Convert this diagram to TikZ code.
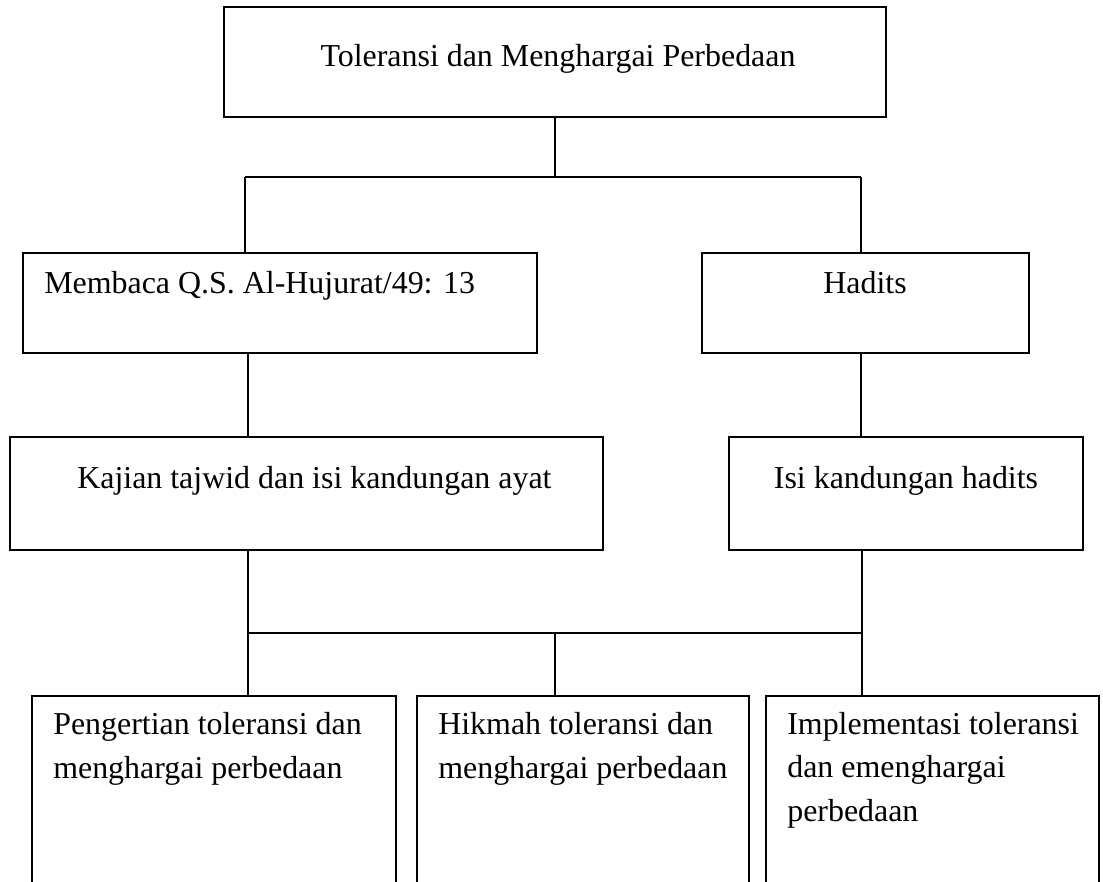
\documentclass[tikz,border=0pt]{standalone}
\usepackage{fontspec}
\setmainfont{Liberation Serif}
\usetikzlibrary{positioning}
\tikzset{
  box/.style={draw, line width=1.2pt, inner sep=0pt},
  box text/.style={font=\fontsize{22.7}{30.6}\selectfont, inner sep=0pt},
  link/.style={line width=1pt},
}

\begin{document}
\begin{tikzpicture}[x=0.025cm, y=-0.025cm]
  \useasboundingbox (0,0) rectangle (1103,881);
  \clip (0,0) rectangle (1103,881);

  % Boxes
  \node[box, minimum width=16.55cm, minimum height=2.75cm] (top) at (555,62) {};
  \node[box, minimum width=12.85cm, minimum height=2.5cm] (membaca) at (280,303) {};
  \node[box, minimum width=8.175cm, minimum height=2.5cm] (hadits) at (865.5,303) {};
  \node[box, minimum width=14.825cm, minimum height=2.825cm] (kajian) at (306.5,493.5) {};
  \node[box, minimum width=8.85cm, minimum height=2.825cm] (isi) at (906,493.5) {};
  \node[box, minimum width=9.1cm, minimum height=5.35cm] (pengertian) at (214,803) {};
  \node[box, minimum width=8.3cm, minimum height=5.35cm] (hikmah) at (583,803) {};
  \node[box, minimum width=8.325cm, minimum height=5.35cm] (implementasi) at (932.5,803) {};

  % Texts (multi-line nodes sit on their last baseline)
  \node[box text, anchor=base] (toptext) at (558,66) {Toleransi dan Menghargai Perbedaan};
  \node[box text, anchor=base west] (membacatext) at (44,293) {Membaca Q.S. Al-Hujurat/49: 13};
  \node[box text, anchor=base] (haditstext) at (865,293) {Hadits};
  \node[box text, anchor=base west] (kajiantext) at (77,488) {Kajian tajwid dan isi kandungan ayat};
  \node[box text, anchor=base] (isitext) at (906,488) {Isi kandungan hadits};
  \node[box text, anchor=base west, align=left] (pengertiantext) at (53,778)
    {Pengertian toleransi dan\\menghargai perbedaan};
  \node[box text, anchor=base west, align=left] (hikmahtext) at (438,778)
    {Hikmah toleransi dan\\menghargai perbedaan};
  \node[box text, anchor=base west, align=left] (implementasitext) at (787,821)
    {Implementasi toleransi\\dan emenghargai\\perbedaan};

  % Upper connectors
  \coordinate (busL) at (245,177);
  \coordinate (busR) at (861,177);
  \draw[link] (top.south) -- (top.south |- busL);
  \draw[link] (busL) -- (busR);
  \draw[link] (busL) -- (busL |- membaca.north);
  \draw[link] (busR) -- (busR |- hadits.north);

  % Middle connectors
  \coordinate (midL) at (248,0);
  \draw[link] (midL |- membaca.south) -- (midL |- kajian.north);
  \draw[link] (busR |- hadits.south) -- (busR |- isi.north);

  % Lower connectors
  \coordinate (lowL) at (248,633);
  \coordinate (lowM) at (555,633);
  \coordinate (lowR) at (862,633);
  \draw[link] (lowL |- kajian.south) -- (lowL);
  \draw[link] (lowL) -- (lowR);
  \draw[link] (lowR |- isi.south) -- (lowR |- implementasi.north);
  \draw[link] (lowL) -- (lowL |- pengertian.north);
  \draw[link] (lowM) -- (lowM |- hikmah.north);
\end{tikzpicture}
\end{document}
